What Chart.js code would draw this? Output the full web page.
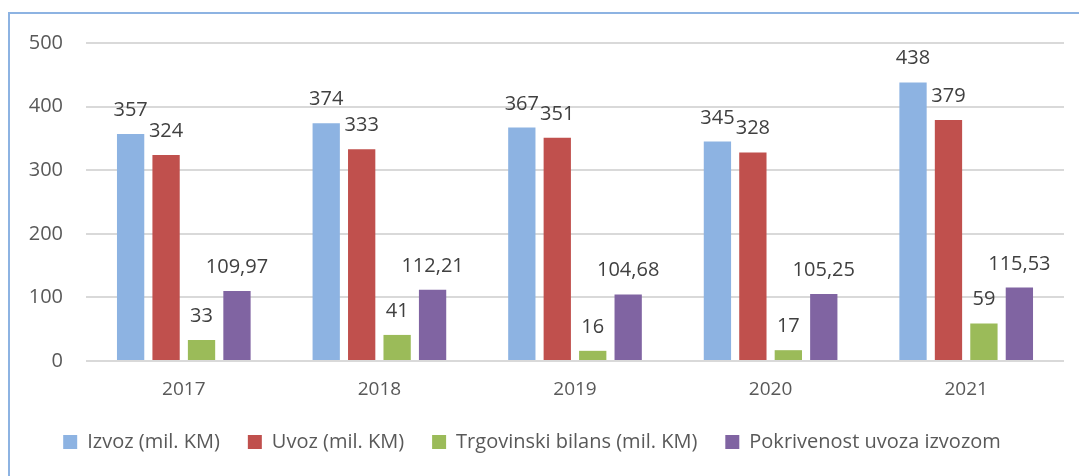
<!DOCTYPE html>
<html>
<head>
<meta charset="utf-8">
<script src="https://cdn.jsdelivr.net/npm/chart.js@4"></script>
<style>
  html, body { margin: 0; padding: 0; background: #fff; overflow: hidden; }
  .frame {
    position: absolute; left: 8px; top: 12px; width: 2000px; height: 2000px;
    border-left: 2px solid #8db3e2; border-top: 2px solid #8db3e2;
  }
  .wrap { position: absolute; left: 0; top: 0; width: 1079px; height: 476px; }
</style>
</head>
<body>
<div class="frame"></div>
<div class="wrap"><canvas id="chart"></canvas></div>
<script>
// Years on the x axis
const years = ["2017", "2018", "2019", "2020", "2021"]

// Series values
const izvoz = [357, 374, 367, 345, 438]
const uvoz = [324, 333, 351, 328, 379]
const bilans = [33, 41, 16, 17, 59]
const pokrivenost = [109.97, 112.21, 104.68, 105.25, 115.53]

// Y axis ticks
const yTicks = [0, 100, 200, 300, 400, 500]

const FONT = "'Open Sans', 'Noto Sans', sans-serif"

// Draws the value above every bar, decimals with a comma
const barLabels = {
  id: "barLabels",
  afterDatasetsDraw(chart) {
    const ctx = chart.ctx
    ctx.save()
    ctx.font = "20px " + FONT
    ctx.fillStyle = "#404040"
    ctx.textAlign = "center"
    ctx.textBaseline = "alphabetic"
    chart.data.datasets.forEach((ds, i) => {
      const meta = chart.getDatasetMeta(i)
      meta.data.forEach((bar, j) => {
        const text = String(ds.data[j]).replace(".", ",")
        ctx.fillText(text, bar.x, bar.y - 18)
      })
    })
    ctx.restore()
  },
}

new Chart(document.getElementById("chart"), {
  type: "bar",
  data: {
    labels: years,
    datasets: [
      { label: "Izvoz (mil. KM)", data: izvoz, backgroundColor: "#8db3e2" },
      { label: "Uvoz (mil. KM)", data: uvoz, backgroundColor: "#c0504d" },
      { label: "Trgovinski bilans (mil. KM)", data: bilans, backgroundColor: "#9bbb59" },
      { label: "Pokrivenost uvoza izvozom", data: pokrivenost, backgroundColor: "#8064a2" },
    ],
  },
  options: {
    responsive: true,
    maintainAspectRatio: false,
    animation: false,
    datasets: {
      bar: { categoryPercentage: 0.725, barPercentage: 0.77, borderWidth: 0 },
    },
    layout: { padding: { left: 0, right: 15, top: 43, bottom: 14 } },
    scales: {
      x: {
        grid: { display: false },
        border: { display: false },
        ticks: { color: "#595959", font: { family: FONT, size: 19 }, padding: 9 },
        afterFit(scale) { scale.height = 43 },
      },
      y: {
        min: 0,
        max: 500,
        afterBuildTicks(scale) { scale.ticks = yTicks.map((v) => ({ value: v })) },
        grid: { color: "#d9d9d9", lineWidth: 2, drawTicks: false },
        border: { display: false },
        ticks: { color: "#595959", font: { family: FONT, size: 20 }, padding: 23 },
        afterFit(scale) { scale.width = 86 },
      },
    },
    plugins: {
      legend: {
        position: "bottom",
        labels: {
          color: "#595959",
          font: { family: FONT, size: 20 },
          boxWidth: 14,
          boxHeight: 14,
          padding: 28,
        },
      },
      tooltip: { enabled: false },
    },
  },
  plugins: [barLabels],
})
</script>
</body>
</html>
